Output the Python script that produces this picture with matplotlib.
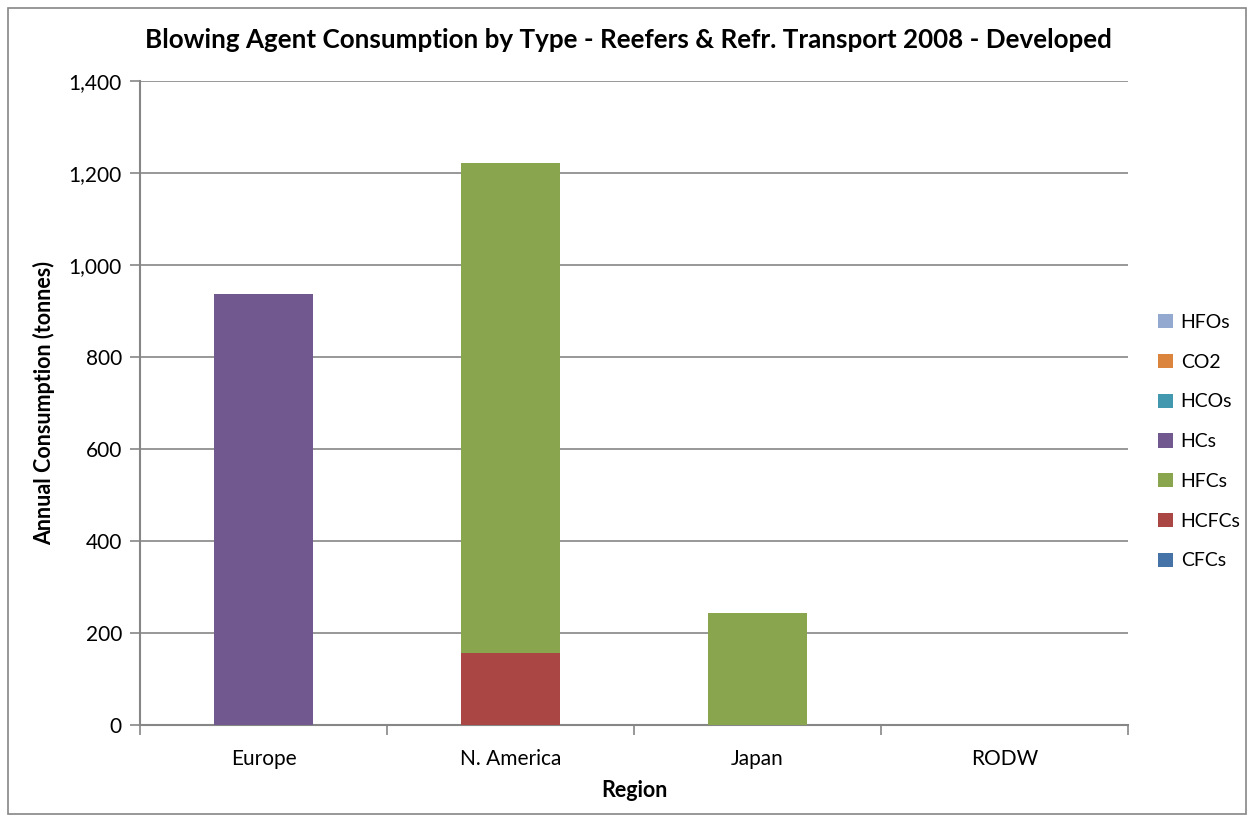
import numpy as np
import matplotlib.pyplot as plt
from matplotlib.patches import Rectangle

regions = ['Europe', 'N. America', 'Japan', 'RODW']

# consumption in tonnes, stacked bottom to top
agents = ['CFCs', 'HCFCs', 'HFCs', 'HCs', 'HCOs', 'CO2', 'HFOs']
cfcs = [0, 0, 0, 0]
hcfcs = [0, 157, 0, 0]
hfcs = [0, 1065, 243, 0]
hcs = [937, 0, 0, 0]
hcos = [0, 0, 0, 0]
co2 = [0, 0, 0, 0]
hfos = [0, 0, 0, 0]
values = [cfcs, hcfcs, hfcs, hcs, hcos, co2, hfos]
colors = ['#4572A7', '#AA4643', '#89A54E', '#71588F', '#4198AF', '#DB843D', '#93A9CF']

plt.rcParams['font.family'] = ['Lato', 'DejaVu Sans']
grey = '#868686'

fig = plt.figure(figsize=(12.5, 8.16), dpi=100)
ax = fig.add_axes([0.112, 0.1115, 0.7904, 0.7892])

x = np.arange(len(regions))
bottom = np.zeros(len(regions))
handles = []
for name, vals, c in zip(agents, values, colors):
    b = ax.bar(x, vals, 0.4, bottom=bottom, color=c, label=name,
               edgecolor='none', zorder=3)
    handles.append(b)
    bottom += np.array(vals)

ax.set_xlim(-0.5, len(regions) - 0.5)
ax.set_ylim(0, 1400)
ax.set_yticks(np.arange(0, 1401, 200))
ax.set_yticklabels(['{:,}'.format(v) for v in range(0, 1401, 200)])
ax.yaxis.grid(True, color=grey, linewidth=1.2, zorder=0)

ax.set_xticks(x)
ax.set_xticklabels(regions)
ax.set_xticks(np.arange(-0.5, len(regions)), minor=True)
ax.tick_params(axis='x', which='major', length=0, pad=17, labelsize=15)
ax.tick_params(axis='x', which='minor', length=7, width=1.2, color=grey, direction='out')
ax.tick_params(axis='y', length=7, width=1.2, color=grey, labelsize=15, pad=6)

for s in ['top', 'right']:
    ax.spines[s].set_visible(False)
for s in ['left', 'bottom']:
    ax.spines[s].set_color(grey)
    ax.spines[s].set_linewidth(1.5)

ax.set_xlabel('Region', fontsize=15.5, fontweight='bold', labelpad=8)
ax.set_ylabel('Annual Consumption (tonnes)', fontsize=15.5, fontweight='bold', labelpad=10)
fig.text(0.503, 0.951, 'Blowing Agent Consumption by Type - Reefers & Refr. Transport 2008 - Developed',
         ha='center', va='center', fontsize=18.7, fontweight='bold')

leg = ax.legend(handles[::-1], agents[::-1], loc='center left',
                bbox_to_anchor=(1.013, 0.44), frameon=False, fontsize=14,
                handlelength=0.75, handleheight=0.75, handletextpad=0.4,
                labelspacing=1.17)

# outer chart border
fig.patches.append(Rectangle((0.0065, 0.003), 0.99, 0.987, transform=fig.transFigure,
                             fill=False, edgecolor=grey, linewidth=1.2))

fig.savefig('out.png', dpi=100)
